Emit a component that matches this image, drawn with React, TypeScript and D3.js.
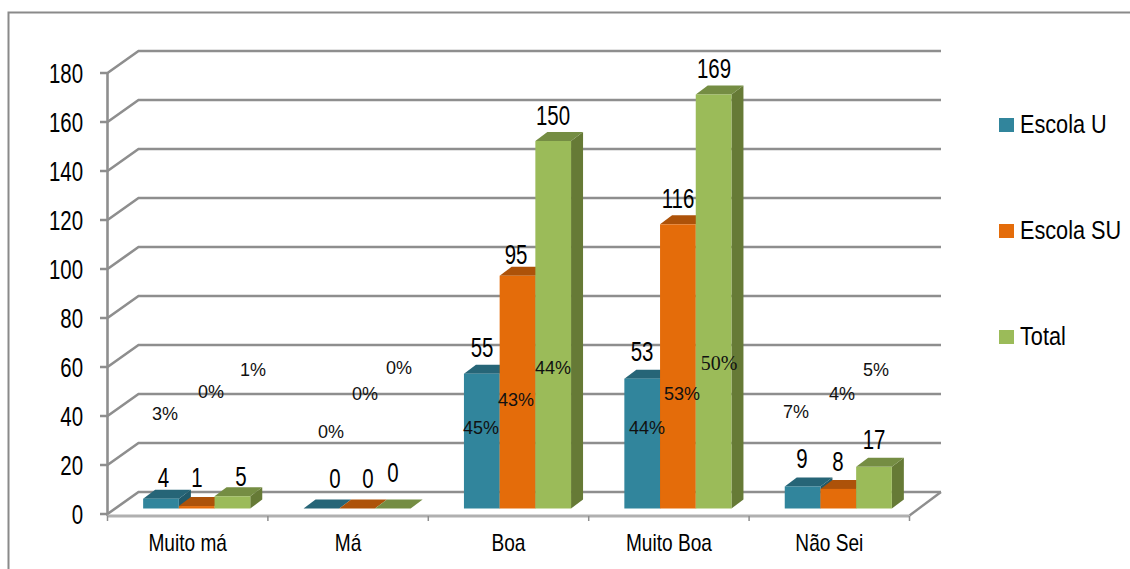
import React from "react";
import * as d3 from "d3";

const categories = ["Muito má", "Má", "Boa", "Muito Boa", "Não Sei"];
const seriesNames = ["Escola U", "Escola SU", "Total"];
const escolaU = [4, 0, 55, 53, 9];
const escolaSU = [1, 0, 95, 116, 8];
const total = [5, 0, 150, 169, 17];
const pctU = ["3%", "0%", "45%", "44%", "7%"];
const pctSU = ["0%", "0%", "43%", "53%", "4%"];
const pctTotal = ["1%", "0%", "44%", "50%", "5%"];
const yTicks = [0, 20, 40, 60, 80, 100, 120, 140, 160, 180];

const seriesValues = [escolaU, escolaSU, total];
const seriesPct = [pctU, pctSU, pctTotal];

// layout, kept apart from the data
const FRONT = "#31859C,#E46C0A,#9BBB59".split(",");
const TOP = "#266577,#AD5209,#758D43".split(",");
const SIDE = "#215a6a,#9a4a08,#667A36".split(",");
const DX = 31, DY = 22;
const BAR_DX = 12, BAR_DY = 9;
const BAR_W = 35.7;
const BASE_SHIFT = 5.5;
const FONT = "'Liberation Sans', Arial, sans-serif";
const SERIF = "'Liberation Serif', serif";
// hand-placed label anchors [cx, baseline], by category then series
const valueAt = [
  [[163.5, 487], [197, 487], [241, 486]],
  [[335, 488], [368, 488], [393, 482]],
  [[482, 357], [516, 264], [553, 125]],
  [[642, 361], [678, 208], [714, 78]],
  [[802, 468], [838, 471], [874, 449]],
];
const pctAt = [
  [[165, 420], [211, 398], [253, 376]],
  [[331, 438], [365, 400], [399, 374]],
  [[481, 434], [516, 406], [553, 374]],
  [[647, 434], [682, 400], [719, 370]],
  [[796, 418], [842, 400], [876, 376]],
];
const legendY = [125, 231, 337];

function T({ x, y, size, sx = 1, anchor = "middle", fill = "#000", family = FONT, children }: any) {
  return (
    <text
      transform={`translate(${x},${y}) scale(${sx},1)`}
      fontFamily={family}
      fontSize={size}
      textAnchor={anchor}
      fill={fill}
    >
      {children}
    </text>
  );
}

export default function App() {
  const y = d3.scaleLinear().domain([0, 180]).range([514, 73]);
  const x = d3.scaleBand<string>().domain(categories).range([107.5, 909.5]);
  const band = x.bandwidth();
  const grid = "#8e8e8e";
  const line = d3.line();

  return (
    <svg
      width={1130}
      height={569}
      style={{ position: "absolute", left: 0, top: 0, background: "#fff" }}
    >
      <path d="M1130,12.5 H8.5 V569" fill="none" stroke="#8a8a8a" strokeWidth={2} />

      {yTicks.map((t) => (
        <g key={t}>
          <path
            d={line([
              [100, y(t)],
              [107.5, y(t)],
              [107.5 + DX, y(t) - DY],
              [941, y(t) - DY],
            ]) as string}
            fill="none"
            stroke={grid}
            strokeWidth={2.6}
          />
          <T x={83} y={y(t) + 10} size={28} sx={0.73} anchor="end">
            {t}
          </T>
        </g>
      ))}
      <path d={`M107.5,${y(180)} V${y(0) + 2}`} stroke={grid} strokeWidth={2.6} fill="none" />
      <path d={`M941,${y(0) - DY} L909.5,${y(0) + 1.5}`} stroke={grid} strokeWidth={2.4} fill="none" />
      <path d={`M107.5,${y(0) + 2} H909.5`} stroke="#b0b0b0" strokeWidth={3} fill="none" />
      {categories.concat("").map((c, i) => {
        const tx = 107.5 + i * band;
        return <path key={i} d={`M${tx},516 V521`} stroke={grid} strokeWidth={1.5} />;
      })}

      {categories.map((c, ci) => {
        const left = (x(c) as number) + band / 2 + 9 - (BAR_W * 3) / 2;
        return (
          <g key={c}>
            {seriesValues.map((vals, si) => {
              const v = vals[ci];
              const x0 = left + si * BAR_W;
              const x1 = x0 + BAR_W;
              const base = y(0) - BASE_SHIFT;
              const top = y(v) - BASE_SHIFT;
              return (
                <g key={si}>
                  <polygon
                    points={`${x1},${top} ${x1 + BAR_DX},${top - BAR_DY} ${x1 + BAR_DX},${base - BAR_DY} ${x1},${base}`}
                    fill={SIDE[si]}
                  />
                  <polygon
                    points={`${x0},${top} ${x0 + BAR_DX},${top - BAR_DY} ${x1 + BAR_DX},${top - BAR_DY} ${x1},${top}`}
                    fill={TOP[si]}
                  />
                  <rect x={x0} y={top} width={BAR_W} height={base - top} fill={FRONT[si]} />
                </g>
              );
            })}
          </g>
        );
      })}

      {categories.map((c, ci) =>
        seriesValues.map((vals, si) => (
          <T key={si} x={valueAt[ci][si][0]} y={valueAt[ci][si][1]} size={28} sx={0.73}>
            {vals[ci]}
          </T>
        ))
      )}
      {categories.map((c, ci) =>
        seriesPct.map((vals, si) => {
          const serif = ci === 3 && si === 2;
          return (
            <T
              key={si}
              x={pctAt[ci][si][0]}
              y={pctAt[ci][si][1]}
              size={serif ? 20 : 18}
              family={serif ? SERIF : FONT}
              fill="#111"
            >
              {vals[ci]}
            </T>
          );
        })
      )}
      {categories.map((c) => (
        <T key={c} x={(x(c) as number) + band / 2} y={551} size={23} sx={0.83}>
          {c}
        </T>
      ))}
      {seriesNames.map((n, i) => (
        <g key={n}>
          <rect x={999} y={legendY[i] - 7} width={15} height={14} fill={FRONT[i]} />
          <T x={1020} y={legendY[i] + 8} size={25.5} sx={0.85} anchor="start">
            {n}
          </T>
        </g>
      ))}
    </svg>
  );
}
